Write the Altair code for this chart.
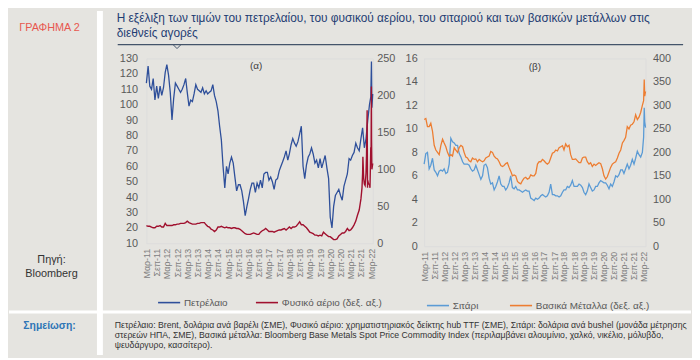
import altair as alt
import pandas as pd

# ---------------- data ----------------
months = pd.date_range("2011-03-01", "2022-02-01", freq="MS").strftime("%Y-%m-%d").tolist()

oil_name = "Πετρέλαιο"
gas_name = "Φυσικό αέριο (δεξ. αξ.)"
wheat_name = "Σιτάρι"
metals_name = "Βασικά Μέταλλα (δεξ. αξ.)"

oil_monthly = [
    114, 125, 112, 110, 117, 103, 112, 104, 112, 106,
    111, 121, 126, 119, 108, 90, 104, 114, 112, 110, 108, 110,
    113, 117, 108, 99, 103, 102, 107, 113, 110, 109, 108, 111,
    107, 109, 107, 108, 109, 113, 106, 102, 96, 86, 77, 60,
    46, 60, 55, 62, 66, 62, 53, 44, 48, 48, 44, 37,
    28, 34, 39, 45, 49, 49, 43, 49, 46, 51, 46, 55,
    56, 56, 51, 53, 50, 45, 51, 52, 57, 60, 63, 66,
    70, 64, 68, 74, 78, 75, 73, 76, 81, 86, 60, 52,
    61, 66, 68, 72, 68, 62, 64, 59, 65, 59, 63, 67,
    59, 52, 27, 20, 34, 41, 43, 45, 41, 38, 47, 51,
    55, 65, 64, 67, 69, 75, 72, 70, 78, 85, 72, 78,
    90, 100,
]
oil_extra_dates = ["2022-02-24", "2022-03-08", "2022-03-16", "2022-03-31"]
oil_extra = [105, 128, 98, 107]

gas_monthly = [
    24, 23, 23, 22, 21, 21, 23, 23, 24, 22,
    22, 27, 24, 24, 24, 24, 25, 25, 26, 26, 27, 27,
    27, 28, 30, 28, 27, 26, 26, 26, 27, 27, 28, 28,
    28, 25, 23, 22, 19, 18, 16, 18, 22, 22, 23, 22,
    21, 22, 21, 21, 20, 21, 21, 20, 20, 19, 17, 15,
    13, 12, 12, 12, 13, 14, 13, 12, 12, 15, 17, 18,
    20, 18, 16, 16, 16, 15, 16, 17, 18, 18, 19, 20,
    18, 20, 22, 20, 22, 22, 23, 26, 29, 25, 25, 23,
    21, 18, 15, 14, 13, 11, 11, 10, 11, 10, 15, 13,
    11, 9, 9, 7, 5, 5, 6, 10, 12, 14, 14, 16,
    20, 17, 18, 21, 25, 30, 38, 45, 60, 95, 80, 95,
    85, 80,
]
gas_extra_dates = ["2021-09-20", "2021-10-06", "2021-10-20", "2021-11-15", "2021-12-10",
                   "2021-12-21", "2021-12-28", "2022-01-15", "2022-02-10", "2022-02-24",
                   "2022-03-01", "2022-03-07", "2022-03-10", "2022-03-16", "2022-03-31"]
gas_extra = [75, 117, 88, 78, 120, 180, 75, 80, 75, 130, 115, 212, 140, 100, 108]

wheat_monthly = [
    7.0, 7.9, 8.0, 6.6, 6.9, 7.5, 6.5, 6.3, 6.0, 6.4,
    6.5, 6.4, 6.6, 6.2, 6.3, 7.0, 9.2, 8.9, 8.8, 8.6, 8.6, 7.9,
    7.6, 7.2, 7.0, 7.0, 7.0, 6.9, 6.6, 6.4, 6.5, 6.9, 6.5, 6.1,
    5.7, 6.0, 6.9, 7.0, 6.7, 5.8, 5.3, 5.4, 4.8, 5.1, 5.5, 6.0,
    5.3, 5.1, 5.1, 4.8, 5.0, 5.4, 6.0, 5.0, 4.9, 5.1, 4.8, 4.8,
    4.7, 4.6, 4.7, 4.8, 4.7, 4.7, 4.1, 4.0, 3.9, 4.1, 4.0, 4.1,
    4.3, 4.4, 4.3, 4.2, 4.3, 4.6, 5.3, 4.4, 4.4, 4.3, 4.3, 4.2,
    4.3, 4.6, 4.8, 4.8, 5.1, 5.0, 5.2, 5.6, 5.1, 5.1, 5.1, 5.3,
    5.2, 5.0, 4.6, 4.4, 4.7, 5.3, 5.0, 4.7, 4.8, 5.1, 5.1, 5.4,
    5.6, 5.5, 5.4, 5.4, 5.2, 4.9, 5.3, 5.1, 5.5, 6.0, 5.9, 6.1,
    6.5, 6.5, 6.2, 6.6, 7.0, 6.6, 6.9, 7.4, 7.0, 7.5, 8.1, 7.8,
    7.6, 8.0,
]
wheat_extra_dates = ["2022-02-24", "2022-03-07", "2022-03-16", "2022-03-31"]
wheat_extra = [9.3, 11.8, 10.6, 10.1]

metals_monthly = [
    270, 272, 255, 255, 262, 245, 215, 205, 200, 195,
    215, 228, 220, 212, 200, 192, 195, 192, 210, 205, 200, 210,
    215, 212, 200, 190, 188, 182, 180, 188, 185, 186, 180, 185,
    182, 180, 182, 188, 190, 192, 202, 200, 192, 188, 186, 180,
    172, 170, 172, 176, 178, 168, 160, 150, 152, 150, 138, 135,
    133, 140, 145, 147, 143, 145, 152, 150, 150, 155, 175, 180,
    180, 185, 182, 178, 175, 178, 188, 198, 200, 205, 203, 210,
    212, 214, 205, 218, 212, 215, 195, 185, 185, 186, 182, 178,
    178, 188, 190, 190, 180, 175, 178, 170, 175, 172, 175, 178,
    176, 165, 150, 143, 148, 158, 168, 175, 178, 180, 188, 198,
    205, 220, 225, 232, 255, 250, 258, 260, 265, 280, 270, 275,
    285, 300,
]
metals_extra_dates = ["2022-02-24", "2022-03-07", "2022-03-16", "2022-03-31"]
metals_extra = [310, 355, 320, 330]

tick_dates = [(y, m) for y in range(2011, 2023) for m in (3, 9) if not (y == 2022 and m == 9)]

title_lines = ["Η εξέλιξη των τιμών του πετρελαίου, του φυσικού αερίου, του σιταριού και των βασικών μετάλλων στις",
               "διεθνείς αγορές"]
chart_label = "ΓΡΑΦΗΜΑ 2"
source_lines = ["Πηγή:", "Bloomberg"]
note_label = "Σημείωση:"
note_lines = [
    "Πετρέλαιο: Brent, δολάρια ανά βαρέλι (ΣΜΕ), Φυσικό αέριο: χρηματιστηριακός δείκτης hub TTF (ΣΜΕ), Σιτάρι: δολάρια ανά bushel (μονάδα μέτρησης",
    "στερεών ΗΠΑ, ΣΜΕ), Βασικά μέταλλα: Bloomberg Base Metals Spot Price Commodity Index (περιλαμβάνει αλουμίνιο, χαλκό, νικέλιο, μόλυβδο,",
    "ψευδάργυρο, κασσίτερο).",
]


def series_df(name, vals, extra_dates, extra_vals):
    d = pd.DataFrame({"date": months + extra_dates, "value": vals + extra_vals})
    d["series"] = name
    return d.sort_values("date").reset_index(drop=True)


oil_df = series_df(oil_name, oil_monthly, oil_extra_dates, oil_extra)
gas_df = series_df(gas_name, gas_monthly, gas_extra_dates, gas_extra)
wheat_df = series_df(wheat_name, wheat_monthly, wheat_extra_dates, wheat_extra)
metals_df = series_df(metals_name, metals_monthly, metals_extra_dates, metals_extra)

# ---------------- style ----------------
FONT = "Liberation Sans"
BG = "#e5e4e0"
AXIS_C = "#595959"
W_A, H_A = 229, 187
W_B, H_B = 224, 190
X0, Y0 = 147, 56      # page position of panel (a) plot origin
XB0 = 428             # page position of panel (b) plot origin


def ax(x):
    return x - X0


def ay(y):
    return y - Y0


one = pd.DataFrame({"k": [0]})


def text_layer(txt, x, y, size, color, align="left", weight="normal"):
    return alt.Chart(pd.DataFrame({"t": [txt]})).mark_text(
        align=align, baseline="middle", fontSize=size, color=color,
        fontWeight=weight, font=FONT
    ).encode(text="t:N", x=alt.value(x), y=alt.value(y))


def rect_layer(x1, x2, y1, y2, color):
    return alt.Chart(one).mark_rect(color=color).encode(
        x=alt.value(x1), x2=alt.value(x2), y=alt.value(y1), y2=alt.value(y2))


def rule_layer(x1, x2, y1, y2, color, w=1.0):
    return alt.Chart(one).mark_rule(color=color, strokeWidth=w).encode(
        x=alt.value(x1), x2=alt.value(x2), y=alt.value(y1), y2=alt.value(y2))


xscale = alt.Scale(type="utc", domain=[alt.DateTime(year=2011, month=3, date=1, utc=True),
                                        alt.DateTime(year=2022, month=3, date=31, utc=True)])
xaxis = alt.Axis(
    values=[alt.DateTime(year=y, month=m, date=1, utc=True) for (y, m) in tick_dates],
    labelExpr="(utcFormat(datum.value, '%m') == '03' ? 'Μαρ' : 'Σεπ') + '-' + utcFormat(datum.value, '%y')",
    labelAngle=270, labelAlign="right", labelBaseline="middle", labelFontSize=9,
    labelColor="#7f7f7f", labelPadding=5, labelOverlap=False, domain=False, ticks=False,
    grid=False, title=None, zindex=1, labelFont=FONT,
)


def yaxis(orient, vals, pad):
    return alt.Axis(orient=orient, values=vals, labelFontSize=11, labelColor=AXIS_C,
                    labelPadding=pad, domain=False, ticks=False, grid=False, title=None,
                    zindex=1, labelFont=FONT)


def legend(x, y, pad):
    return alt.Legend(orient="none", legendX=x, legendY=y, direction="horizontal",
                      symbolType="stroke", symbolSize=500, symbolStrokeWidth=1.6,
                      labelFontSize=10, labelColor=AXIS_C, labelFont=FONT,
                      labelOffset=3, columnPadding=pad, title=None, padding=0, zindex=1)


# ---------------- panel (a) ----------------
colA = alt.Scale(domain=[oil_name, gas_name], range=["#2e4f9a", "#a0102e"])
legA = legend(11, 235, 24)

oil_line = alt.Chart(oil_df).mark_line(strokeWidth=1.3).encode(
    x=alt.X("date:T", scale=xscale, axis=xaxis),
    y=alt.Y("value:Q", scale=alt.Scale(domain=[10, 130]), axis=yaxis("left", list(range(10, 131, 10)), 9)),
    color=alt.Color("series:N", scale=colA, legend=legA),
)
gas_line = alt.Chart(gas_df).mark_line(strokeWidth=1.4).encode(
    x=alt.X("date:T", scale=xscale, axis=xaxis),
    y=alt.Y("value:Q", scale=alt.Scale(domain=[0, 250]), axis=yaxis("right", list(range(0, 251, 50)), 4)),
    color=alt.Color("series:N", scale=colA, legend=legA),
)

TITLE_C = "#1f3d73"
decor = [
    # white separators between the panels
    rect_layer(ax(97), ax(103), ay(8), ay(356), "white"),
    rect_layer(ax(8), ax(698), ay(311), ay(314), "white"),
    # left column
    text_layer(chart_label, ax(49), ay(25), 11, "#e8574f", align="center"),
    text_layer(source_lines[0], ax(51), ay(260), 11, "#333333", align="center"),
    text_layer(source_lines[1], ax(51), ay(274), 11, "#333333", align="center"),
    text_layer(note_label, ax(49), ay(327), 10.5, "#2e75b6", align="center", weight="bold"),
    # title and line
    text_layer(title_lines[0], ax(117), ay(15), 12, TITLE_C),
    text_layer(title_lines[1], ax(117), ay(30), 12, TITLE_C),
    rule_layer(ax(118), ax(690), ay(42), ay(42), "#44546a", 1.2),
    rule_layer(ax(174), ax(178), ay(42), ay(46), "#44546a", 1),
    rule_layer(ax(178), ax(182), ay(46), ay(42), "#44546a", 1),
    text_layer("(α)", ax(258), ay(64), 10, "#404040", align="center"),
    # note
    text_layer(note_lines[0], ax(115), ay(326), 8.8, "#333333"),
    text_layer(note_lines[1], ax(115), ay(336), 8.8, "#333333"),
    text_layer(note_lines[2], ax(115), ay(346), 8.8, "#333333"),
]

chart_a = alt.layer(*decor, oil_line, gas_line).resolve_scale(y="independent").properties(
    width=W_A, height=H_A)

# ---------------- panel (b) ----------------
colB = alt.Scale(domain=[wheat_name, metals_name], range=["#5b9bd5", "#ed7d31"])
legB = legend(2, 238, 28)

wheat_line = alt.Chart(wheat_df).mark_line(strokeWidth=1.3).encode(
    x=alt.X("date:T", scale=xscale, axis=xaxis),
    y=alt.Y("value:Q", scale=alt.Scale(domain=[0, 16]), axis=yaxis("left", list(range(0, 17, 2)), 7)),
    color=alt.Color("series:N", scale=colB, legend=legB),
)
metals_line = alt.Chart(metals_df).mark_line(strokeWidth=1.3).encode(
    x=alt.X("date:T", scale=xscale, axis=xaxis),
    y=alt.Y("value:Q", scale=alt.Scale(domain=[0, 400]), axis=yaxis("right", list(range(0, 401, 50)), 7)),
    color=alt.Color("series:N", scale=colB, legend=legB),
)
beta = text_layer("(β)", 112, 9, 10, "#404040", align="center")

chart_b = alt.layer(beta, wheat_line, metals_line).resolve_scale(y="independent").properties(
    width=W_B, height=H_B)

chart = alt.hconcat(chart_a, chart_b, spacing=XB0 - X0 - W_A, bounds="flush").resolve_scale(
    color="independent").properties(background=BG, padding=0).configure_view(
    stroke="transparent").configure(font=FONT)

chart.save("out.html", embed_options={"renderer": "svg", "actions": False})
